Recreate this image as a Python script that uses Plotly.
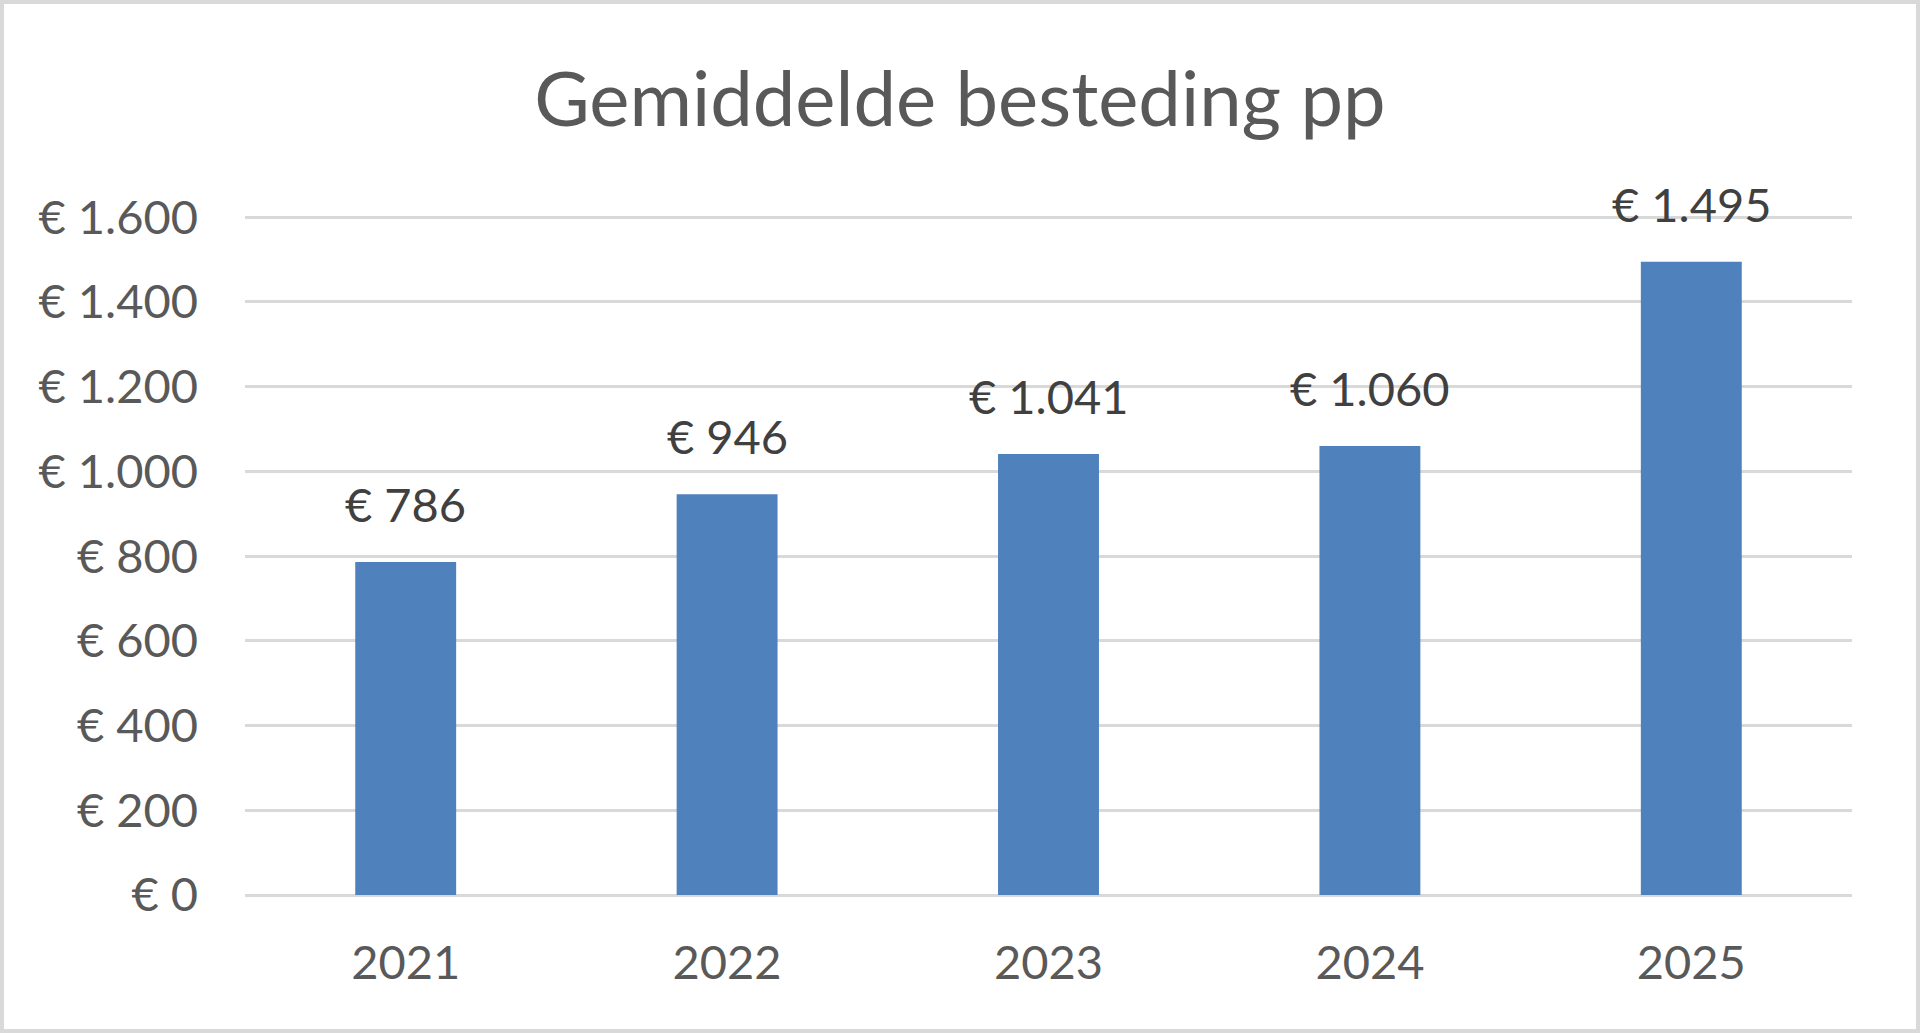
import plotly.graph_objects as go

# Chart data
years = ["2021", "2022", "2023", "2024", "2025"]
spend = [786, 946, 1041, 1060, 1495]
y_ticks = [0, 200, 400, 600, 800, 1000, 1200, 1400, 1600]
y_tick_labels = ["€ 0", "€ 200", "€ 400", "€ 600", "€ 800",
                 "€ 1.000", "€ 1.200", "€ 1.400", "€ 1.600"]


def euro(v):
    # Dutch style thousands separator
    return "€ " + f"{v:,}".replace(",", ".")


W, H = 1920, 1033
m_l, m_r, m_t, m_b = 245, 68, 216, 138
plot_w = W - m_l - m_r
plot_h = H - m_t - m_b

fig = go.Figure(
    go.Bar(
        x=years,
        y=spend,
        marker=dict(color="#4f81bd", line=dict(width=0)),
        hoverinfo="x+y",
    )
)

# data labels above the bars (x by category index)
for i, v in enumerate(spend):
    fig.add_annotation(
        x=i, y=v, text=euro(v), showarrow=False,
        yanchor="bottom", yshift=28,
        font=dict(family="Lato", size=47, color="#404040"),
    )

# light grey frame round the whole chart
fig.add_shape(
    type="rect", xref="paper", yref="paper",
    x0=(2 - m_l) / plot_w, x1=(W - 2 - m_l) / plot_w,
    y0=-(m_b - 2) / plot_h, y1=1 + (m_t - 2) / plot_h,
    line=dict(color="#d9d9d9", width=4),
)

fig.update_layout(
    width=W,
    height=H,
    margin=dict(l=m_l, r=m_r, t=m_t, b=m_b),
    paper_bgcolor="white",
    plot_bgcolor="white",
    bargap=0.686,
    showlegend=False,
    font=dict(family="Lato", color="#595959"),
    title=dict(
        text="Gemiddelde besteding pp",
        x=0.5, xref="container", xanchor="center",
        y=0.904, yref="container", yanchor="middle",
        font=dict(family="Lato", size=76, color="#595959"),
    ),
    xaxis=dict(
        type="category",
        range=[-0.5, len(years) - 0.5],
        showgrid=False,
        showline=False,
        ticks="",
        tickfont=dict(size=47, color="#595959"),
        ticklabelstandoff=36,
        fixedrange=True,
    ),
    yaxis=dict(
        range=[0, 1603],  # a hair above 1600 so the top gridline is drawn
        tickvals=y_ticks,
        ticktext=y_tick_labels,
        showgrid=True,
        gridcolor="#d9d9d9",
        gridwidth=3,
        zeroline=True,
        zerolinecolor="#d9d9d9",
        zerolinewidth=3,
        showline=False,
        ticks="",
        tickfont=dict(size=47, color="#595959"),
        ticklabelstandoff=46,
        fixedrange=True,
    ),
)

fig.write_html(
    "out.html",
    config={"displayModeBar": False},
    post_script="document.body.style.margin='0';document.body.style.overflow='hidden';",
)
